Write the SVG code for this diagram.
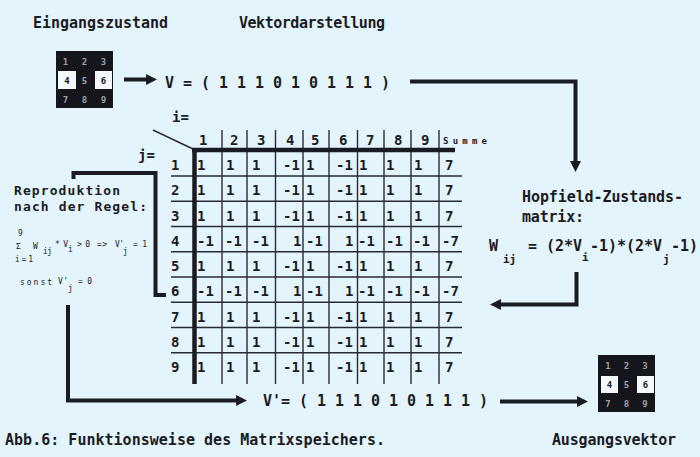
<svg xmlns="http://www.w3.org/2000/svg" width="700" height="457" viewBox="0 0 700 457">
<style>
.t{font-family:"DejaVu Sans Mono","Liberation Mono",monospace;font-weight:bold;fill:#1b1b24}
.big{font-size:15px}
.mid{font-size:13px}
.m{font-size:14px}
.sub{font-size:11px}
.s{font-size:8px;font-weight:normal}
.gd{font-family:"DejaVu Sans Mono",monospace;font-weight:bold;font-size:9px;fill:#9aa2aa;text-anchor:middle}
.gw{font-family:"DejaVu Sans Mono",monospace;font-weight:bold;font-size:9px;fill:#1b1b24;text-anchor:middle}
.con{fill:none;stroke:#1b1b24;stroke-width:4}
.thin{stroke:#2a2a34;stroke-width:1.4;fill:none}
.thick{stroke:#1b1b24;stroke-width:4.5;fill:none}
</style>
<defs>
<marker id="ah" viewBox="0 0 10 10" refX="4.5" refY="5" markerWidth="11" markerHeight="11" markerUnits="userSpaceOnUse" orient="auto">
<path d="M0,0 L10,5 L0,10 z" fill="#1b1b24"/>
</marker>
</defs>
<rect width="700" height="457" fill="#e4f4fc"/>

<g id="title-input"><text class="t big" x="33" y="28" textLength="135">Eingangszustand</text></g>
<g id="title-vector"><text class="t big" x="239" y="28" textLength="146">Vektordarstellung</text></g>

<g id="input-grid">
<rect x="56" y="51" width="57" height="57" fill="#15151c"/>
<rect x="58" y="71" width="18" height="18" fill="#f4f8fa"/>
<rect x="95" y="71" width="17" height="18" fill="#f4f8fa"/>
<text class="gd" x="65.5" y="64.5">1</text><text class="gd" x="84.5" y="64.5">2</text><text class="gd" x="103.5" y="64.5">3</text>
<text class="gw" x="67" y="83.5">4</text><text class="gd" x="84.5" y="83.5">5</text><text class="gw" x="103.5" y="83.5">6</text>
<text class="gd" x="65.5" y="102.5">7</text><text class="gd" x="84.5" y="102.5">8</text><text class="gd" x="103.5" y="102.5">9</text>
</g>

<g id="vector-v"><text class="t big" x="165" y="88" textLength="225">V = ( 1 1 1 0 1 0 1 1 1 )</text></g>

<g id="hopfield-label">
<text class="t big" x="522" y="202" textLength="161">Hopfield-Zustands-</text>
<text class="t big" x="522" y="222" textLength="62">matrix:</text>
</g>

<g id="formula">
<text class="t big" x="489" y="251">W</text>
<text class="t sub" x="503" y="263">ij</text>
<text class="t big" x="528" y="251">=</text>
<text class="t big" x="546" y="251" textLength="36">(2*V</text>
<text class="t sub" x="582" y="261">i</text>
<text class="t big" x="590" y="251" textLength="72">-1)*(2*V</text>
<text class="t sub" x="663" y="263">j</text>
<text class="t big" x="671" y="251" textLength="27">-1)</text>
</g>

<g id="reproduction-rule">
<text class="t mid" x="14" y="195" textLength="106">Reproduktion</text>
<text class="t mid" x="14" y="211" textLength="133">nach der Regel:</text>
<text class="t s" x="18" y="236">9</text>
<text class="t s" x="16" y="249" font-size="10">Σ</text>
<text class="t s" x="33" y="249">W</text>
<text class="t s" x="43" y="254" textLength="9">ij</text>
<text class="t s" x="55" y="247" textLength="13">*V</text>
<text class="t s" x="68" y="252">i</text>
<text class="t s" x="77" y="247" textLength="13">&gt;0</text>
<text class="t s" x="97" y="247" textLength="10">=&gt;</text>
<text class="t s" x="115" y="247" textLength="9">V'</text>
<text class="t s" x="123" y="254">j</text>
<text class="t s" x="133" y="247" textLength="14">=1</text>
<text class="t s" x="15" y="262" textLength="18">i=1</text>
<text class="t s" x="20" y="285" textLength="32">sonst</text>
<text class="t s" x="58" y="284" textLength="10">V'</text>
<text class="t s" x="68" y="291">j</text>
<text class="t s" x="78" y="284" textLength="14">=0</text>
</g>

<g id="matrix">
<path class="thin" d="M153,130 L193,149"/>
<text class="t m" x="172" y="122">i=</text>
<text class="t m" x="138" y="160">j=</text>
<g class="thin">
<path d="M222,130V384M247,130V384M275.5,130V384M303,130V384M329,130V384M357.5,130V384M384,130V384M411,130V384M439,130V384"/>
<path d="M171,176H462M171,201.3H462M171,226.5H462M171,251.8H462M171,277H462M171,302.3H462M171,327.5H462M171,352.8H462"/>
</g>
<path class="thick" d="M194.5,148V384"/>
<path class="thick" d="M192,150H455"/>
<g class="t m">
<text x="199" y="145">1</text><text x="230" y="145">2</text><text x="257" y="145">3</text><text x="286" y="145">4</text><text x="311" y="145">5</text><text x="339" y="145">6</text><text x="366" y="145">7</text><text x="394" y="145">8</text><text x="421" y="145">9</text>
</g>
<text class="t" x="443" y="144" font-size="9" textLength="44">Summe</text>
<g class="t m">
<text x="171" y="170">1</text><text x="171" y="195">2</text><text x="171" y="220.5">3</text><text x="171" y="246">4</text><text x="171" y="271">5</text><text x="171" y="296">6</text><text x="171" y="321.5">7</text><text x="171" y="347">8</text><text x="171" y="372">9</text>
</g>
<g id="row-pos" class="t m">
<text y="170"><tspan x="197">1</tspan><tspan x="226">1</tspan><tspan x="252">1</tspan><tspan x="283">-1</tspan><tspan x="306">1</tspan><tspan x="336">-1</tspan><tspan x="359">1</tspan><tspan x="386">1</tspan><tspan x="414">1</tspan><tspan x="445">7</tspan></text>
<text y="195"><tspan x="197">1</tspan><tspan x="226">1</tspan><tspan x="252">1</tspan><tspan x="283">-1</tspan><tspan x="306">1</tspan><tspan x="336">-1</tspan><tspan x="359">1</tspan><tspan x="386">1</tspan><tspan x="414">1</tspan><tspan x="445">7</tspan></text>
<text y="220.5"><tspan x="197">1</tspan><tspan x="226">1</tspan><tspan x="252">1</tspan><tspan x="283">-1</tspan><tspan x="306">1</tspan><tspan x="336">-1</tspan><tspan x="359">1</tspan><tspan x="386">1</tspan><tspan x="414">1</tspan><tspan x="445">7</tspan></text>
<text y="246"><tspan x="197">-1</tspan><tspan x="225">-1</tspan><tspan x="252">-1</tspan><tspan x="293">1</tspan><tspan x="306">-1</tspan><tspan x="345">1</tspan><tspan x="358">-1</tspan><tspan x="386">-1</tspan><tspan x="413">-1</tspan><tspan x="442">-7</tspan></text>
<text y="271"><tspan x="197">1</tspan><tspan x="226">1</tspan><tspan x="252">1</tspan><tspan x="283">-1</tspan><tspan x="306">1</tspan><tspan x="336">-1</tspan><tspan x="359">1</tspan><tspan x="386">1</tspan><tspan x="414">1</tspan><tspan x="445">7</tspan></text>
<text y="296"><tspan x="197">-1</tspan><tspan x="225">-1</tspan><tspan x="252">-1</tspan><tspan x="293">1</tspan><tspan x="306">-1</tspan><tspan x="345">1</tspan><tspan x="358">-1</tspan><tspan x="386">-1</tspan><tspan x="413">-1</tspan><tspan x="442">-7</tspan></text>
<text y="321.5"><tspan x="197">1</tspan><tspan x="226">1</tspan><tspan x="252">1</tspan><tspan x="283">-1</tspan><tspan x="306">1</tspan><tspan x="336">-1</tspan><tspan x="359">1</tspan><tspan x="386">1</tspan><tspan x="414">1</tspan><tspan x="445">7</tspan></text>
<text y="347"><tspan x="197">1</tspan><tspan x="226">1</tspan><tspan x="252">1</tspan><tspan x="283">-1</tspan><tspan x="306">1</tspan><tspan x="336">-1</tspan><tspan x="359">1</tspan><tspan x="386">1</tspan><tspan x="414">1</tspan><tspan x="445">7</tspan></text>
<text y="372"><tspan x="197">1</tspan><tspan x="226">1</tspan><tspan x="252">1</tspan><tspan x="283">-1</tspan><tspan x="306">1</tspan><tspan x="336">-1</tspan><tspan x="359">1</tspan><tspan x="386">1</tspan><tspan x="414">1</tspan><tspan x="445">7</tspan></text>
</g>
</g>

<g id="vector-vprime"><text class="t big" x="263" y="406" textLength="225">V'= ( 1 1 1 0 1 0 1 1 1 )</text></g>

<g id="output-grid">
<rect x="598" y="355" width="57" height="57" fill="#15151c"/>
<rect x="601" y="376" width="17" height="17" fill="#f4f8fa"/>
<rect x="637" y="376" width="17" height="17" fill="#f4f8fa"/>
<text class="gd" x="608" y="368.5">1</text><text class="gd" x="626.5" y="368.5">2</text><text class="gd" x="645" y="368.5">3</text>
<text class="gw" x="609.5" y="387.5">4</text><text class="gd" x="626.5" y="387.5">5</text><text class="gw" x="645.5" y="387.5">6</text>
<text class="gd" x="608" y="406.5">7</text><text class="gd" x="626.5" y="406.5">8</text><text class="gd" x="645" y="406.5">9</text>
</g>

<g id="output-label"><text class="t big" x="552" y="445" textLength="124">Ausgangsvektor</text></g>
<g id="caption"><text class="t big" x="5" y="445" textLength="380">Abb.6: Funktionsweise des Matrixspeichers.</text></g>

<g id="connectors">
<path class="con" d="M124,79.5H151" marker-end="url(#ah)"/>
<path class="con" d="M410,81.5H575.5V166" marker-end="url(#ah)"/>
<path class="con" d="M576.5,272V304.5H496" marker-end="url(#ah)"/>
<path class="con" d="M68,305V400.5H241" marker-end="url(#ah)"/>
<path class="con" d="M500,401.5H582" marker-end="url(#ah)"/>
<path class="con" stroke-width="4.5" d="M73.5,179V173H155.5V295H166"/>
</g>
</svg>
